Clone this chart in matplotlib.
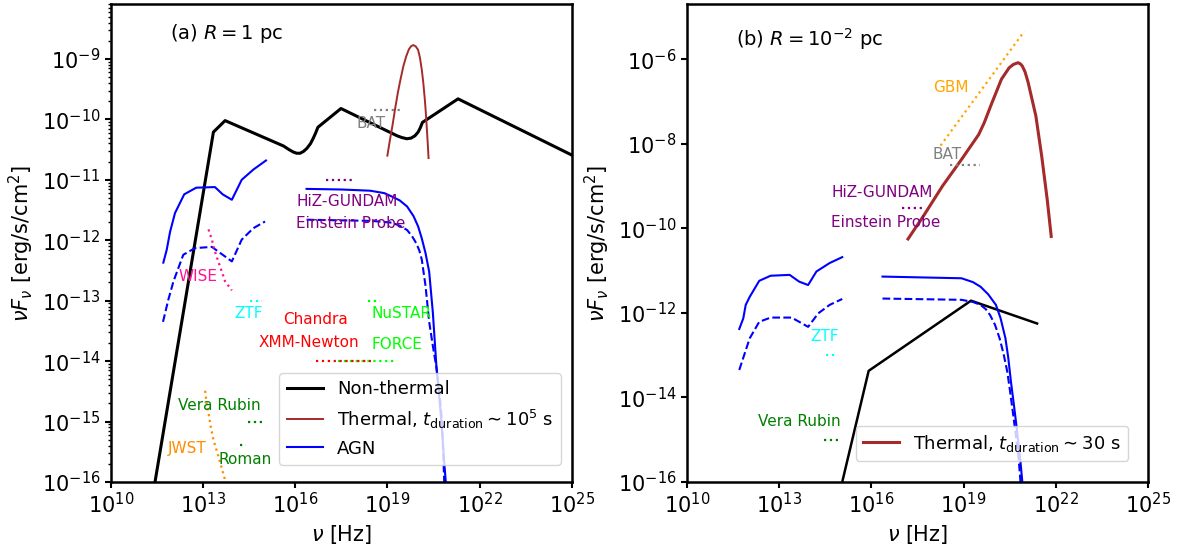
import numpy as np
import matplotlib
matplotlib.use('Agg')
import matplotlib.pyplot as plt
from matplotlib.ticker import NullLocator, FixedLocator

plt.rcParams['axes.linewidth'] = 1.8
plt.rcParams['xtick.major.width'] = 1.5
plt.rcParams['ytick.major.width'] = 1.5
plt.rcParams['ytick.minor.width'] = 1.0
plt.rcParams['xtick.major.size'] = 4
plt.rcParams['ytick.major.size'] = 4

# all values are log10(nu [Hz]) and log10(nu F_nu [erg/s/cm^2])

########### (a) R = 1 pc ###########
nt_a_lognu = [11.44, 13.34, 13.72, 15.62, 15.80, 15.94, 16.05, 16.16, 16.27, 16.38, 16.50,
              16.59, 16.67, 16.74, 17.49, 19.31, 19.47, 19.63, 19.77, 19.90, 20.00, 20.07,
              20.14, 21.30, 25.0]
nt_a_logF = [-16.0, -10.21, -10.02, -10.44, -10.50, -10.54, -10.56, -10.56, -10.53, -10.48, -10.40,
             -10.31, -10.22, -10.13, -9.82, -10.27, -10.30, -10.32, -10.31, -10.27, -10.21, -10.14,
             -10.05, -9.66, -10.59]

th_a_lognu = [19.00, 19.08, 19.16, 19.25, 19.34, 19.43, 19.52, 19.61, 19.70, 19.77, 19.84,
              19.92, 20.00, 20.06, 20.12, 20.17, 20.22, 20.25, 20.28, 20.31, 20.34]
th_a_logF = [-10.60, -10.35, -10.12, -9.83, -9.56, -9.33, -9.12, -8.96, -8.84, -8.79, -8.77,
             -8.79, -8.85, -8.98, -9.18, -9.40, -9.68, -9.88, -10.12, -10.37, -10.64]

# AGN, solid and dashed
agn_ir_lognu = [11.71, 11.82, 11.93, 12.09, 12.39, 12.78, 13.39, 13.64, 13.94, 14.26, 14.64, 15.05]
agn_ir_logF = [-12.37, -12.16, -11.86, -11.55, -11.24, -11.13, -11.12, -11.24, -11.33, -11.00, -10.83, -10.68]
agn_ir_d_lognu = [11.70, 11.87, 12.04, 12.36, 12.74, 13.29, 13.56, 13.94, 14.26, 14.64, 15.02]
agn_ir_d_logF = [-13.35, -12.99, -12.68, -12.24, -12.13, -12.11, -12.21, -12.35, -11.99, -11.80, -11.69]

agn_x_lognu = [16.37, 17.50, 18.44, 18.90, 19.16, 19.40, 19.64, 19.85, 20.00, 20.12, 20.24,
               20.36, 20.48, 20.60, 20.68, 20.76, 20.85, 20.90]
agn_x_logF = [-11.15, -11.16, -11.18, -11.22, -11.28, -11.34, -11.44, -11.60, -11.77, -11.97, -12.21,
              -12.52, -13.20, -14.12, -14.55, -15.01, -15.67, -16.0]
agn_x_d_lognu = [16.37, 18.50, 19.16, 19.40, 19.64, 19.80, 19.94, 20.04, 20.12, 20.24, 20.36,
                 20.48, 20.60, 20.70, 20.78, 20.85]
agn_x_d_logF = [-11.66, -11.68, -11.71, -11.76, -11.83, -11.93, -12.05, -12.17, -12.32, -12.75, -13.35,
                -13.75, -14.12, -14.55, -15.01, -16.0]

wise_lognu = [13.18, 13.29, 13.39, 13.56, 13.72, 13.94]
wise_logF = [-11.82, -11.99, -12.19, -12.44, -12.68, -12.83]
jwst_lognu = [13.07, 13.12, 13.18, 13.25, 13.34, 13.47, 13.61, 13.72]
jwst_logF = [-14.49, -14.70, -14.86, -15.08, -15.30, -15.52, -15.77, -15.97]

# flat sensitivity limits: (name, nu_min, nu_max, flux, colour)
sens_a = [("BAT", 18.55, 19.47, -9.85, "gray"),
          ("HiZ", 17.0, 17.87, -11.0, "purple"),
          ("ZTF", 14.54, 14.91, -13.0, "cyan"),
          ("FORCE", 17.38, 19.28, -14.0, "lime"),
          ("XMM", 16.68, 18.46, -14.0, "red"),
          ("NuSTAR", 18.38, 18.75, -13.0, "lime"),
          ("Rubin", 14.48, 14.99, -15.0, "green"),
          ("Roman", 14.21, 14.40, -15.39, "green")]

labels_a = [("BAT", 18.0, -10.06, "gray"),
            ("HiZ-GUNDAM", 16.03, -11.36, "purple"),
            ("Einstein Probe", 16.03, -11.73, "purple"),
            ("WISE", 12.20, -12.60, "deeppink"),
            ("ZTF", 14.02, -13.21, "cyan"),
            ("Chandra", 15.62, -13.31, "red"),
            ("XMM-Newton", 14.80, -13.69, "red"),
            ("NuSTAR", 18.49, -13.21, "lime"),
            ("FORCE", 18.49, -13.73, "lime"),
            ("Vera Rubin", 12.20, -14.74, "green"),
            ("Roman", 13.50, -15.62, "green"),
            ("JWST", 11.85, -15.44, "darkorange")]

########### (b) R = 1e-2 pc ###########
nt_b_lognu = [15.05, 15.91, 19.24, 21.39]
nt_b_logF = [-16.0, -13.37, -11.71, -12.25]

th_b_lognu = [17.19, 17.69, 18.31, 18.93, 19.49, 19.67, 19.92, 20.23, 20.48, 20.62, 20.77, 20.85,
              20.91, 21.00, 21.10, 21.35, 21.54, 21.72, 21.85]
th_b_logF = [-10.25, -9.71, -9.00, -8.37, -7.78, -7.50, -7.03, -6.47, -6.20, -6.12, -6.08, -6.11,
             -6.16, -6.30, -6.55, -7.34, -8.29, -9.32, -10.19]

agn_b_ir_lognu = [11.70, 11.83, 11.91, 12.04, 12.35, 12.72, 13.34, 13.65, 13.94, 14.21, 14.64, 15.05]
agn_b_ir_logF = [-12.38, -12.13, -11.81, -11.62, -11.24, -11.12, -11.10, -11.26, -11.34, -11.02, -10.82, -10.68]
agn_b_ir_d_lognu = [11.70, 11.84, 12.04, 12.35, 12.72, 13.40, 13.65, 13.94, 14.27, 14.64, 15.05]
agn_b_ir_d_logF = [-13.35, -13.04, -12.60, -12.21, -12.11, -12.11, -12.21, -12.33, -12.01, -11.81, -11.67]
agn_b_x_lognu = [16.36, 18.93, 19.30, 19.55, 19.80, 20.05, 20.20, 20.36, 20.45, 20.54, 20.64,
                 20.73, 20.85, 20.91]
agn_b_x_logF = [-11.14, -11.18, -11.27, -11.38, -11.56, -11.81, -12.12, -12.60, -13.05, -13.63, -14.20,
                -14.74, -15.53, -16.0]
agn_b_x_d_lognu = [16.36, 18.93, 19.30, 19.55, 19.72, 19.86, 20.02, 20.17, 20.30, 20.42, 20.51,
                   20.60, 20.70, 20.79, 20.85]
agn_b_x_d_logF = [-11.66, -11.69, -11.74, -11.81, -11.91, -12.05, -12.28, -12.60, -12.97, -13.39, -13.85,
                  -14.34, -14.90, -15.45, -16.0]

gbm_lognu = [18.25, 20.97]
gbm_logF = [-8.04, -5.34]

sens_b = [("BAT", 18.56, 19.52, -8.50, "gray"),
          ("HiZ", 16.98, 17.75, -9.51, "purple"),
          ("ZTF", 14.52, 14.77, -13.0, "cyan"),
          ("Rubin", 14.46, 14.93, -15.0, "green")]

labels_b = [("GBM", 18.0, -6.67, "orange"),
            ("BAT", 18.0, -8.25, "gray"),
            ("HiZ-GUNDAM", 14.70, -9.16, "purple"),
            ("Einstein Probe", 14.70, -9.86, "purple"),
            ("ZTF", 14.0, -12.56, "cyan"),
            ("Vera Rubin", 12.31, -14.58, "green")]


def p(a):
    return 10.0 ** np.asarray(a)


fig = plt.figure(figsize=(11.77, 5.44), dpi=100)
ax1 = fig.add_axes([0.0941, 0.1140, 0.3917, 0.8787])
ax2 = fig.add_axes([0.5837, 0.1140, 0.3917, 0.8787])

## panel (a)
ax1.plot(p(nt_a_lognu), p(nt_a_logF), color='black', lw=2.2, label='Non-thermal')
ax1.plot(p(th_a_lognu), p(th_a_logF), color='brown', lw=1.4,
         label=r'Thermal, $t_{\rm duration}\sim10^5$ s')
ax1.plot(p(agn_ir_lognu), p(agn_ir_logF), color='blue', lw=1.5, label='AGN')
ax1.plot(p(agn_x_lognu), p(agn_x_logF), color='blue', lw=1.5)
ax1.plot(p(agn_ir_d_lognu), p(agn_ir_d_logF), color='blue', lw=1.5, ls='--')
ax1.plot(p(agn_x_d_lognu), p(agn_x_d_logF), color='blue', lw=1.5, ls='--')
ax1.plot(p(wise_lognu), p(wise_logF), color='deeppink', lw=1.6, ls=':')
ax1.plot(p(jwst_lognu), p(jwst_logF), color='darkorange', lw=1.6, ls=':')
for name, n0, n1, f, c in sens_a:
    ax1.plot(p([n0, n1]), p([f, f]), color=c, lw=1.6, ls=':')
for txt, n, f, c in labels_a:
    ax1.text(p(n), p(f), txt, color=c, fontsize=11, ha='left', va='center')
ax1.text(0.129, 0.939, r'(a) $R=1$ pc', transform=ax1.transAxes, fontsize=14,
         ha='left', va='center')

ax1.set_xscale('log')
ax1.set_yscale('log')
ax1.set_xlim(1e10, 1e25)
ax1.set_ylim(1e-16, 10 ** -8.09)
ax1.set_xticks([1e10, 1e13, 1e16, 1e19, 1e22, 1e25])
ax1.xaxis.set_minor_locator(NullLocator())
ax1.yaxis.set_major_locator(FixedLocator([10.0 ** k for k in range(-16, -8)]))
ax1.legend(loc='lower right', bbox_to_anchor=(0.976, 0.036), borderaxespad=0,
           fontsize=13)

## panel (b)
ax2.plot(p(nt_b_lognu), p(nt_b_logF), color='black', lw=1.8)
ax2.plot(p(th_b_lognu), p(th_b_logF), color='brown', lw=2.2,
         label=r'Thermal, $t_{\rm duration}\sim30$ s')
ax2.plot(p(agn_b_ir_lognu), p(agn_b_ir_logF), color='blue', lw=1.5)
ax2.plot(p(agn_b_x_lognu), p(agn_b_x_logF), color='blue', lw=1.5)
ax2.plot(p(agn_b_ir_d_lognu), p(agn_b_ir_d_logF), color='blue', lw=1.5, ls='--')
ax2.plot(p(agn_b_x_d_lognu), p(agn_b_x_d_logF), color='blue', lw=1.5, ls='--')
ax2.plot(p(gbm_lognu), p(gbm_logF), color='orange', lw=1.6, ls=':')
for name, n0, n1, f, c in sens_b:
    ax2.plot(p([n0, n1]), p([f, f]), color=c, lw=1.6, ls=':')
for txt, n, f, c in labels_b:
    ax2.text(p(n), p(f), txt, color=c, fontsize=11, ha='left', va='center')
ax2.text(0.106, 0.926, r'(b) $R=10^{-2}$ pc', transform=ax2.transAxes, fontsize=14,
         ha='left', va='center')

ax2.set_xscale('log')
ax2.set_yscale('log')
ax2.set_xlim(1e10, 1e25)
ax2.set_ylim(1e-16, 10 ** -4.69)
ax2.set_xticks([1e10, 1e13, 1e16, 1e19, 1e22, 1e25])
ax2.xaxis.set_minor_locator(NullLocator())
ax2.yaxis.set_major_locator(FixedLocator([10.0 ** k for k in range(-16, -5, 2)]))
ax2.yaxis.set_minor_locator(NullLocator())
ax2.legend(loc='lower right', bbox_to_anchor=(0.957, 0.044), borderaxespad=0,
           fontsize=13)

for ax in (ax1, ax2):
    ax.set_xlabel(r'$\nu$ [Hz]', fontsize=15)
    ax.set_ylabel(r'$\nu F_\nu$ [erg/s/cm$^2$]', fontsize=15)
    ax.tick_params(labelsize=15)

plt.savefig('out.png', dpi=100)
